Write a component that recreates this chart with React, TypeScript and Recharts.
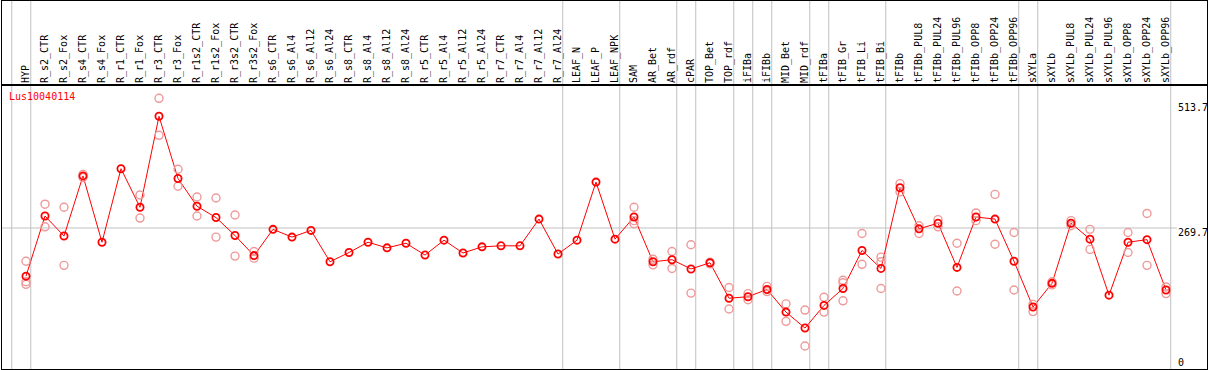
import React from 'react';
import { ComposedChart, Line, Scatter, XAxis, YAxis, ReferenceLine } from 'recharts';

const samples = [
  'HYP', 'R_s2_CTR', 'R_s2_Fox', 'R_s4_CTR', 'R_s4_Fox', 'R_r1_CTR', 'R_r1_Fox', 'R_r3_CTR', 'R_r3_Fox',
  'R_r1s2_CTR', 'R_r1s2_Fox', 'R_r3s2_CTR', 'R_r3s2_Fox', 'R_s6_CTR', 'R_s6_Al4', 'R_s6_Al12', 'R_s6_Al24',
  'R_s8_CTR', 'R_s8_Al4', 'R_s8_Al12', 'R_s8_Al24', 'R_r5_CTR', 'R_r5_Al4', 'R_r5_Al12', 'R_r5_Al24',
  'R_r7_CTR', 'R_r7_Al4', 'R_r7_Al12', 'R_r7_Al24', 'LEAF_N', 'LEAF_P', 'LEAF_NPK', 'SAM', 'AR_Bet', 'AR_rdf',
  'cPAR', 'TOP_Bet', 'TOP_rdf', 'iFIBa', 'iFIBb', 'MID_Bet', 'MID_rdf', 'tFIBa', 'tFIB_Gr', 'tFIB_Li', 'tFIB_Bi',
  'tFIBb', 'tFIBb_PUL8', 'tFIBb_PUL24', 'tFIBb_PUL96', 'tFIBb_OPP8', 'tFIBb_OPP24', 'tFIBb_OPP96',
  'sXYLa', 'sXYLb', 'sXYLb_PUL8', 'sXYLb_PUL24', 'sXYLb_PUL96', 'sXYLb_OPP8', 'sXYLb_OPP24', 'sXYLb_OPP96',
];

// mean expression per sample
const means = [
  176, 293, 254, 371, 242, 385, 310, 487, 366, 312,
  290, 255, 216, 267, 252, 265, 204, 222, 242, 231,
  240, 217, 246, 221, 233, 235, 235, 287, 219, 246,
  359, 248, 291, 204, 208, 190, 202, 133, 136, 150,
  106, 75, 119, 152, 226, 191, 348, 268, 279, 193,
  291, 287, 205, 116, 162, 279, 248, 139, 242, 247, 149,
];

// individual replicates per sample
const replicates: number[][] = [
  [205, 165, 160], [316, 272], [310, 197], [374, 368], [], [], [334, 289], [522, 450], [384, 351], [330, 293],
  [328, 252], [295, 215], [224, 211], [], [], [], [], [], [], [],
  [], [], [], [], [], [], [], [], [], [],
  [], [], [310, 284, 278], [209, 198], [224, 191], [237, 143], [203, 200], [154, 112], [142, 130], [156, 146],
  [122, 88], [110, 40], [135, 106], [168, 163, 128], [259, 199], [213, 204, 152], [356, 340], [274, 259], [286, 272], [240, 147],
  [299, 284], [335, 238], [261, 149], [121, 107], [165, 159], [284, 274], [267, 228], [], [261, 222], [298, 197], [155, 142],
];

// last sample of each group (-1 = before first)
const groupEnds = [-1, 0, 28, 31, 34, 35, 37, 38, 39, 41, 42, 45, 52, 53, 60];
const yTicks = [0, 269.7, 513.7];
const geneId = 'Lus10040114';

const font = '"DejaVu Sans Mono", monospace';

const data = samples.map((name, idx) => ({ idx, name, mean: means[idx] }));
const repPoints = replicates.flatMap((reps, idx) => reps.map((rep) => ({ idx, rep })));

const TopTick = ({ x, y, payload }: any) => {
  const label = samples[payload.value];
  const tx = x + 3;
  const ty = 83;
  return (
    <text x={tx} y={ty} transform={`rotate(-90, ${tx}, ${ty})`} fontSize={10} fontFamily={font} fill="#000" textAnchor="start">
      {label}
    </text>
  );
};

const RightTick = ({ x, y, payload }: any) => {
  const by = Math.min(y + 8, 366);
  return (
    <text x={1178} y={by} fontSize={10} fontFamily={font} fill="#000" textAnchor="start">
      {payload.value}
    </text>
  );
};

const MeanDot = ({ cx, cy }: any) => (
  <circle cx={cx} cy={cy} r={3.6} fill="none" stroke="#ff0000" strokeWidth={1.8} />
);

const RepDot = ({ cx, cy }: any) => (
  <circle cx={cx} cy={cy} r={4} fill="none" stroke="#ee9a9a" strokeWidth={1.4} />
);

export default function App() {
  return (
    <div style={{ position: 'absolute', left: 0, top: 0, width: 1209, height: 370, background: '#fff' }}>
      <ComposedChart width={1209} height={370} data={data} margin={{ top: 2, right: 2, bottom: 1, left: 2 }}>
        <XAxis
          dataKey="idx"
          type="number"
          orientation="top"
          height={83}
          domain={[-1.2632, 60.579]}
          allowDataOverflow
          ticks={samples.map((_, i) => i)}
          interval={0}
          axisLine={false}
          tickLine={false}
          tick={<TopTick />}
        />
        <YAxis
          type="number"
          orientation="right"
          width={30}
          domain={[-4.67, 547.9]}
          allowDataOverflow
          ticks={yTicks}
          interval={0}
          axisLine={false}
          tickLine={false}
          tick={<RightTick />}
        />
        <ReferenceLine y={269.7} stroke="#c0c0c0" strokeWidth={1} />
        {groupEnds.map((g) => (
          <ReferenceLine
            key={g}
            segment={[{ x: g + 0.25, y: -12 }, { x: g + 0.25, y: 725 }]}
            stroke="#c0c0c0"
            strokeWidth={1}
            ifOverflow="visible"
          />
        ))}
        <Scatter data={repPoints} dataKey="rep" shape={<RepDot />} isAnimationActive={false} />
        <Line
          dataKey="mean"
          stroke="#ff0000"
          strokeWidth={1}
          dot={<MeanDot />}
          activeDot={false}
          isAnimationActive={false}
        />
      </ComposedChart>
      <div style={{ position: 'absolute', left: 1, top: 0, width: 1205, height: 368, border: '1px solid #000', borderTopWidth: 1, pointerEvents: 'none' }} />
      <div style={{ position: 'absolute', left: 1, top: 84, width: 1207, height: 0, borderTop: '2px solid #000', pointerEvents: 'none' }} />
      <div style={{ position: 'absolute', left: 9, top: 91, color: '#ff0000', fontFamily: font, fontSize: 10, lineHeight: '12px' }}>
        {geneId}
      </div>
    </div>
  );
}
